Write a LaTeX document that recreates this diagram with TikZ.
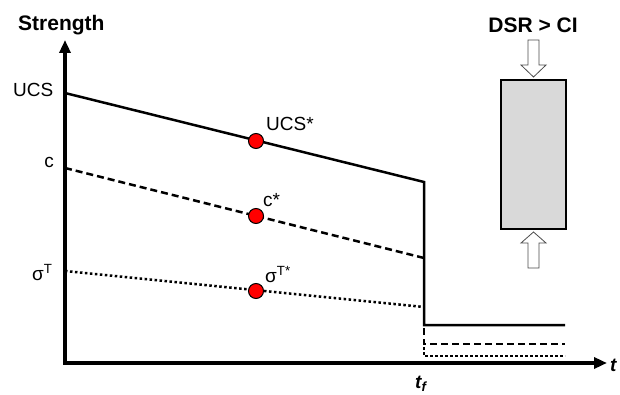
\documentclass[tikz,border=0pt]{standalone}
\usepackage{fontspec}
\setmainfont{Liberation Sans}
\usepackage{xcolor}
\usetikzlibrary{arrows.meta,positioning}

\begin{document}
\begin{tikzpicture}[x=1pt, y=-1pt,
  lbl/.style={font=\fontsize{19}{22}\selectfont, inner sep=0pt},
  ttl/.style={font=\fontsize{21}{24}\selectfont\bfseries, inner sep=0pt},
  axis/.style={line width=3.5pt, {Triangle[length=13pt,width=11pt]}-{Triangle[length=13pt,width=11pt]}},
  crv/.style={line width=2.5pt},
  dsh/.style={crv, dash pattern=on 7pt off 4pt},
  dtt/.style={crv, dash pattern=on 2.5pt off 2.5pt},
  dot/.style={circle, draw=black, line width=1pt, fill=red, minimum size=15pt, inner sep=0pt},
  blk/.style={draw=black!70, line width=0.8pt, fill=white}]
\useasboundingbox (0,0) rectangle (620,395);
% axes
\coordinate (o)    at (65,363);
\coordinate (ytop) at (65,40);
\coordinate (xend) at (607,363);
\draw[axis] (ytop) -- (o) -- (xend);
\node[ttl, anchor=base west] (strength) at (18,31) {Strength};
\node[lbl, anchor=base west] (tx) at (610,371) {\bfseries\itshape t};
\node[lbl, anchor=base west] (tf) at (415,388) {\bfseries\itshape t\textsubscript{f}};
% curve end points
\coordinate (ucs0) at (65,93);   \coordinate (ucs1) at (424,182);
\coordinate (ucs2) at (424,325); \coordinate (ucs3) at (565,325);
\coordinate (c0)   at (65,168);  \coordinate (c1)   at (424,258);
\coordinate (c2)   at (424,328); \coordinate (c3)   at (424,344); \coordinate (c4) at (565,344);
\coordinate (s0)   at (65,271);  \coordinate (s1)   at (424,307);
\coordinate (s2)   at (424,347); \coordinate (s3)   at (424,356); \coordinate (s4) at (565,356);
\draw[crv] (ucs0) -- (ucs1) -- (ucs2) -- (ucs3);
\draw[dsh] (c0) -- (c1);
\draw[dsh] (c2) -- (c3) -- (c4);
\draw[dtt] (s0) -- (s1);
\draw[dtt] (s2) -- (s3) -- (s4);
% labels on the strength axis
\node[lbl, anchor=base west] (ucs) at (13,97)  {UCS};
\node[lbl, anchor=base east] (c)   at (54,168) {c};
\node[lbl, anchor=base west] (sig) at (32,280) {σ\textsuperscript{T}};
% points
\node[dot] (ucsp) at (256,141) {};
\node[dot] (cp)   at (256,216) {};
\node[dot] (sigp) at (256,291) {};
\node[lbl, anchor=base west] (ucsl) at (266,131) {UCS*};
\node[lbl, anchor=base west] (cl)   at (263,207) {c*};
\node[lbl, anchor=base west] (sigl) at (265,282) {σ\textsuperscript{T*}};
% specimen
\node[draw=black, line width=1.5pt, fill=black!15, minimum width=65pt, minimum height=149pt, inner sep=0pt] (box) at (533.5,154.5) {};
\node[ttl, anchor=base] (dsr) at (533,33) {DSR > CI};
\draw[blk] (528,40) -- (539,40) -- (539,65) -- (546,65) -- (533.5,77) -- (521,65) -- (528,65) -- cycle;
\draw[blk] (528,268) -- (539,268) -- (539,243) -- (546,243) -- (533.5,232) -- (521,243) -- (528,243) -- cycle;
\end{tikzpicture}
\end{document}
